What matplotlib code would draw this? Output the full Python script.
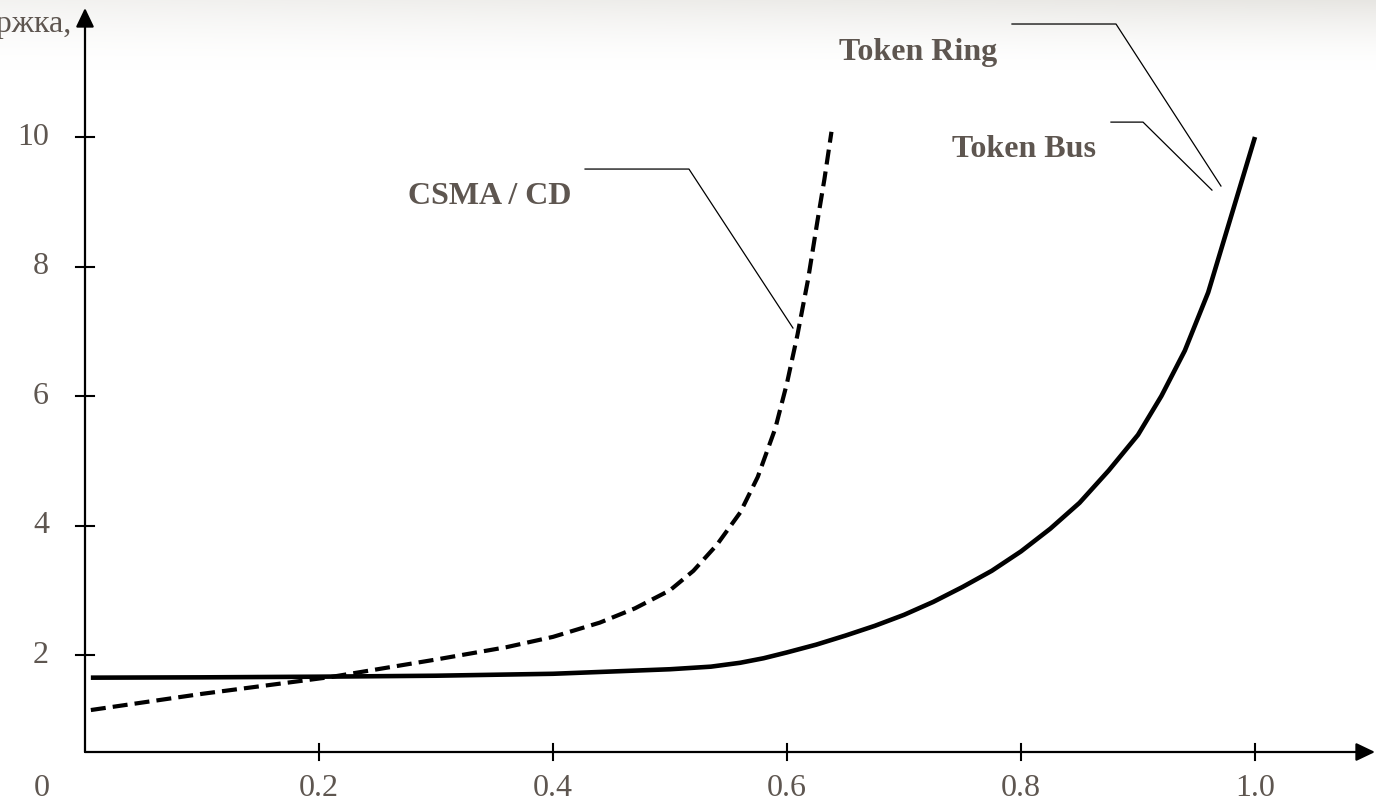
import matplotlib.pyplot as plt
import numpy as np

# load (fraction of capacity) vs delay
csma_x = [0.005, 0.1, 0.21, 0.3, 0.36, 0.4, 0.44, 0.47, 0.5, 0.52, 0.54, 0.56,
          0.575, 0.59, 0.6, 0.609, 0.618, 0.626, 0.632, 0.638]
csma_y = [1.15, 1.4, 1.66, 1.93, 2.12, 2.28, 2.5, 2.72, 3.0, 3.3, 3.7, 4.2,
          4.75, 5.5, 6.2, 6.95, 7.8, 8.7, 9.35, 10.08]

token_x = [0.005, 0.1, 0.2, 0.3, 0.4, 0.5, 0.535, 0.56, 0.58, 0.6, 0.625, 0.65,
           0.675, 0.7, 0.725, 0.75, 0.775, 0.8, 0.825, 0.85, 0.875, 0.9, 0.92,
           0.94, 0.96, 0.975, 0.99, 1.0]
token_y = [1.65, 1.655, 1.665, 1.68, 1.71, 1.78, 1.82, 1.88, 1.95, 2.04, 2.16, 2.3,
           2.45, 2.62, 2.82, 3.05, 3.3, 3.6, 3.95, 4.35, 4.85, 5.4, 6.0,
           6.7, 7.6, 8.5, 9.4, 10.0]

x_ticks = [0.2, 0.4, 0.6, 0.8, 1.0]
x_tick_labels = ["0.2", "0.4", "0.6", "0.8", "1.0"]
y_ticks = [2, 4, 6, 8, 10]
y_tick_labels = ["2", "4", "6", "8", "10"]

TEXT = "#5e5650"
SERIF = ["Liberation Serif", "DejaVu Serif"]

W, H = 1376, 805
fig = plt.figure(figsize=(W / 100, H / 100), dpi=100)

# soft grey shadow along the top edge
bg = fig.add_axes([0, 0, 1, 1], zorder=0)
yy, xx = np.mgrid[0:H, 0:W]
fade = np.clip(1 - yy / 70.0, 0, 1) ** 1.6 * (0.5 + 0.5 * xx / W)
img = np.ones((H, W, 3))
shade = np.array([0.905, 0.9, 0.885])
img = img * (1 - fade[..., None]) + shade * fade[..., None]
bg.imshow(img, aspect="auto", extent=(0, 1, 0, 1), origin="upper")
bg.axis("off")

ax = fig.add_axes([0, 0, 1, 1], zorder=1)
ax.patch.set_alpha(0)

# pixel mapping: x=0 at 85px, 1170px per unit; y=0 at 784.5px, 64.75px per unit
ax.set_xlim(-85 / 1170, (W - 85) / 1170)
ax.set_ylim((784.5 - H) / 64.75, 784.5 / 64.75)

x_axis_y = (784.5 - 752) / 64.75

ax.plot(token_x, token_y, color="black", lw=3.3, solid_capstyle="butt",
        solid_joinstyle="round")
ax.plot(csma_x, csma_y, color="black", lw=3.0, dashes=(3.6, 1.7),
        dash_joinstyle="round")

# axes with arrows
for side in ["top", "right", "left", "bottom"]:
    ax.spines[side].set_visible(False)
arrow = dict(arrowstyle="-|>,head_length=1.15,head_width=0.55", color="black",
             lw=1.6, mutation_scale=10, shrinkA=0, shrinkB=0)
ax.annotate("", xy=(0, 784.5 / 64.75 - 8 / 64.75), xytext=(0, x_axis_y), arrowprops=arrow)
ax.annotate("", xy=((1375 - 85) / 1170, x_axis_y), xytext=(0, x_axis_y), arrowprops=arrow)

tx = 9 / 1170
ty = 8 / 64.75
for v in y_ticks:
    ax.plot([-tx, tx], [v, v], color="black", lw=1.5)
for u in x_ticks:
    ax.plot([u, u], [x_axis_y - ty, x_axis_y + ty], color="black", lw=1.5)
ax.set_xticks([])
ax.set_yticks([])

for v, lab in zip(y_ticks, y_tick_labels):
    ax.text(-36 / 1170, v, lab, ha="right", va="center", fontsize=23,
            color=TEXT, family=SERIF)
for u, lab in zip(x_ticks, x_tick_labels):
    ax.text(u, (784.5 - 788) / 64.75, lab, ha="center", va="center", fontsize=23,
            color=TEXT, family=SERIF)
ax.text(-43 / 1170, (784.5 - 788) / 64.75, "0", ha="center", va="center",
        fontsize=23, color=TEXT, family=SERIF)

# axis title, cut off at the left edge as in the original
ax.text(-13 / 1170, (784.5 - 32) / 64.75, "Задержка,", ha="right", va="baseline",
        fontsize=23, color=TEXT, family=SERIF, clip_on=False)

# curve labels with leader lines
ax.text(0.2761, 8.965, "CSMA / CD", ha="left", va="baseline", fontsize=23,
        fontweight="bold", color=TEXT, family=SERIF)
ax.text(0.6444, 11.19, "Token Ring", ha="left", va="baseline", fontsize=23,
        fontweight="bold", color=TEXT, family=SERIF)
ax.text(0.7410, 9.69, "Token Bus", ha="left", va="baseline", fontsize=23,
        fontweight="bold", color=TEXT, family=SERIF)

ax.plot([0.4274, 0.5162, 0.6051], [9.505, 9.505, 7.05], color="black", lw=0.9)
ax.plot([0.7923, 0.8812, 0.9709], [11.745, 11.745, 9.243], color="black", lw=0.9)
ax.plot([0.8769, 0.9043, 0.9632], [10.23, 10.23, 9.18], color="black", lw=0.9)

fig.savefig("out.png", dpi=100)
